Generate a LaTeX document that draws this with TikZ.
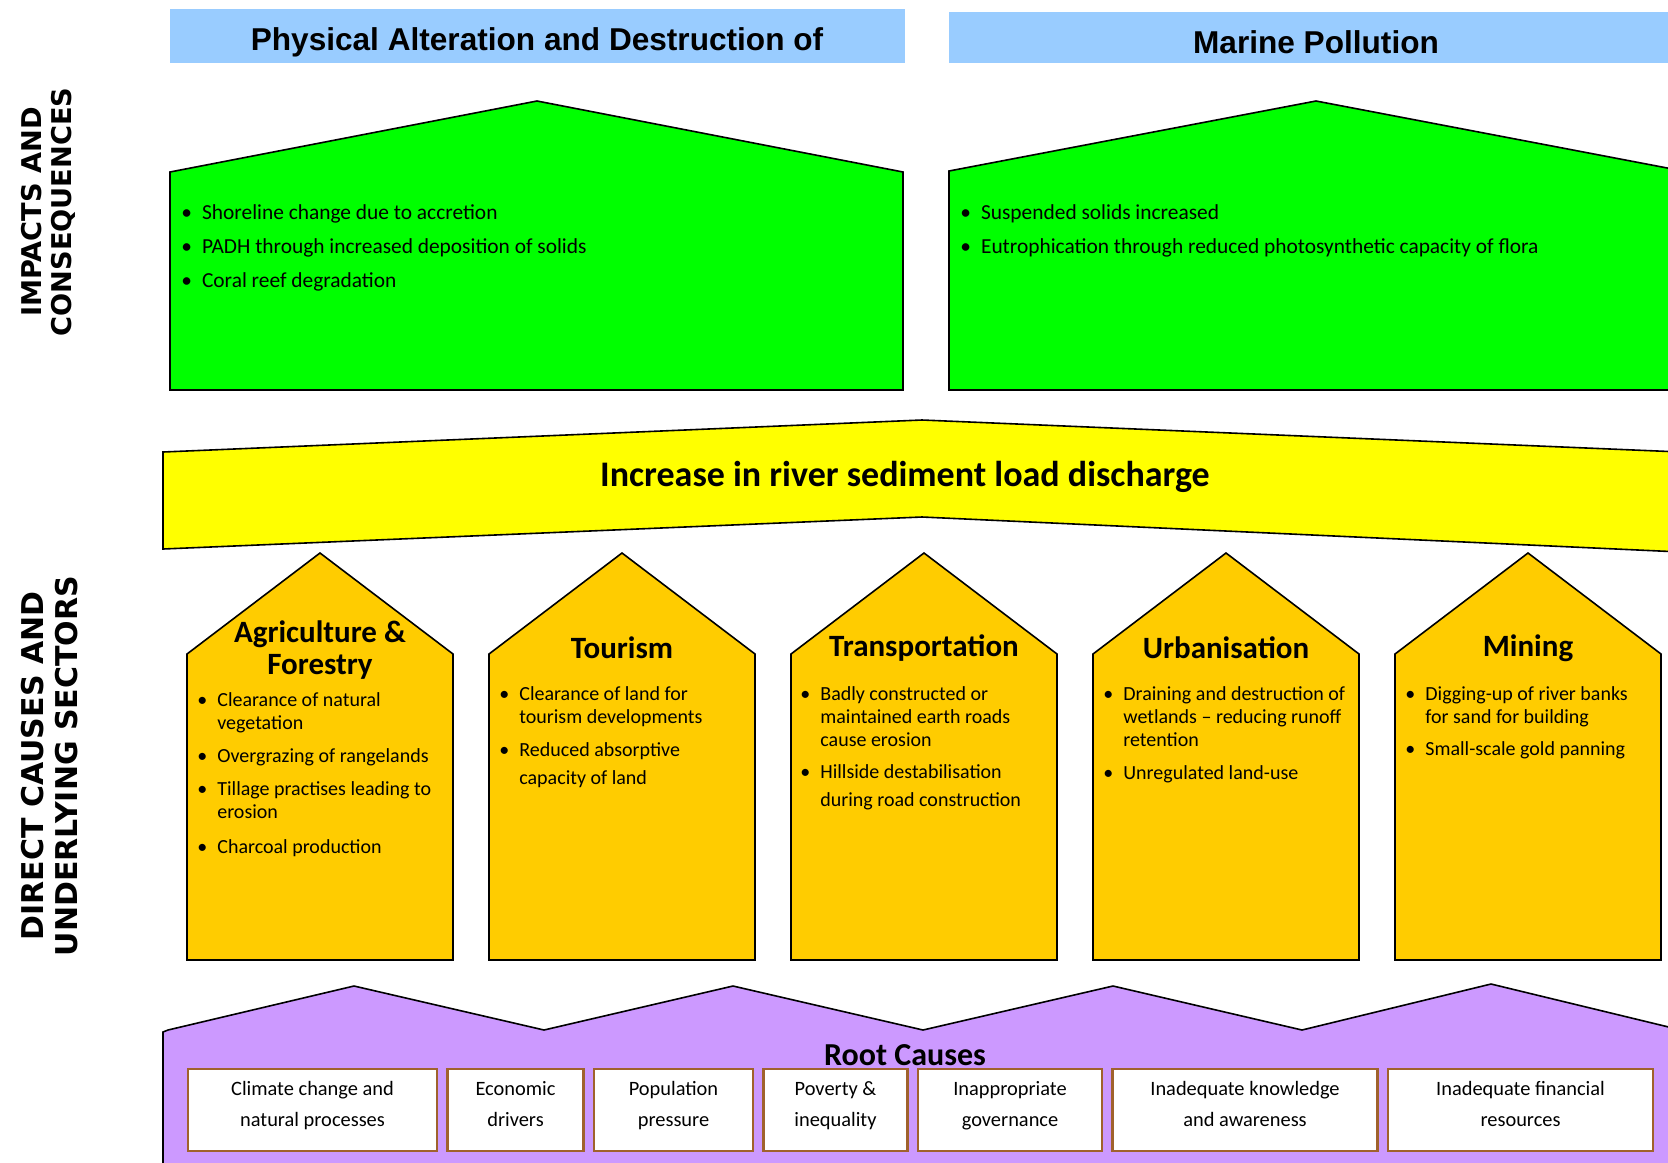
\documentclass[tikz,border=0pt]{standalone}
\usepackage{fontspec}
\setmainfont{Carlito}
\newfontfamily\headfont{Liberation Sans}
\newfontfamily\sidefont{DejaVu Sans}
\usetikzlibrary{positioning}
\definecolor{headblue}{HTML}{99CCFF}
\definecolor{impactgreen}{HTML}{00FF00}
\definecolor{loadyellow}{HTML}{FFFF00}
\definecolor{sectororange}{HTML}{FFCC00}
\definecolor{rootpurple}{HTML}{CC99FF}
\definecolor{rootbrown}{HTML}{A0622D}

\tikzset{
  headtext/.style={font=\headfont\bfseries\fontsize{15.8}{18}\selectfont},
  outlined/.style={draw=black, line width=0.8pt, line join=miter},
  sectortitle/.style={font=\bfseries\fontsize{15.5}{16}\selectfont, align=center},
  bulletlist/.style={anchor=base west, inner sep=0pt, font=\fontsize{10}{11.5}\selectfont},
  rootbox/.style={draw=rootbrown, fill=white, line width=1.2pt, align=center, inner sep=0pt,
    outer sep=0pt, minimum height=41pt, text height=22.5pt, text depth=6.5pt,
    font=\fontsize{10.2}{15.5}\selectfont},
  sidelabel/.style={rotate=90, align=center}
}

\begin{document}
\begin{tikzpicture}[x=0.5pt,y=-0.5pt]
  \useasboundingbox (0,0) rectangle (1668,1162);
  \clip (0,0) rectangle (1668,1162);
  \fill[white] (0,0) rectangle (1668,1162);

  % side labels
  \node[sidelabel, font=\sidefont\bfseries\fontsize{13.6}{15}\selectfont] (impacts) at (48,212)
    {IMPACTS AND\\CONSEQUENCES};
  \node[sidelabel, font=\sidefont\bfseries\fontsize{15}{17}\selectfont] (causes) at (50,766)
    {DIRECT CAUSES AND\\UNDERLYING SECTORS};

  % header bars
  \fill[headblue] (170,9) rectangle (905,63);
  \fill[headblue] (949,12) rectangle (1668,63);
  \node[headtext] (physical) at (537,42) {Physical Alteration and Destruction of};
  \node[headtext] (marine) at (1316,42) {Marine Pollution};

  % impacts
  \filldraw[outlined, fill=impactgreen] (170,390) -- (170,172) -- (537,101) -- (903,172) -- (903,390) -- cycle;
  \filldraw[outlined, fill=impactgreen] (949,390) -- (949,171) -- (1316,101) -- (1683,171) -- (1683,390) -- cycle;
  \node[bulletlist, font=\fontsize{10.7}{17}\selectfont] (physlist) at (181,219) {%
    \begin{tabular}[t]{@{}l@{\hspace{5pt}}l@{}}
      \textbullet & Shoreline change due to accretion\\
      \textbullet & PADH through increased deposition of solids\\
      \textbullet & Coral reef degradation
    \end{tabular}};
  \node[bulletlist, font=\fontsize{10.7}{17}\selectfont] (marinelist) at (960,219) {%
    \begin{tabular}[t]{@{}l@{\hspace{5pt}}l@{}}
      \textbullet & Suspended solids increased\\
      \textbullet & Eutrophication through reduced photosynthetic capacity of flora
    \end{tabular}};

  % sediment load
  \filldraw[outlined, fill=loadyellow] (163,549) -- (163,452) -- (922,420) -- (1681,452) -- (1681,552) -- (922,517) -- cycle;
  \node[font=\bfseries\fontsize{18}{20}\selectfont] (sediment) at (905,477) {Increase in river sediment load discharge};

  % sectors
  \foreach \cx in {320,622,924,1226,1528}
    \filldraw[outlined, fill=sectororange] (\cx-133,960) -- (\cx-133,654) -- (\cx,553) -- (\cx+133,654) -- (\cx+133,960) -- cycle;

  \node[sectortitle] (agri) at (320,650) {Agriculture \&\\Forestry};
  \node[sectortitle] (tourism) at (622,648) {Tourism};
  \node[sectortitle] (transport) at (924,648) {Transportation};
  \node[sectortitle] (urban) at (1226,648) {Urbanisation};
  \node[sectortitle] (mining) at (1528,648) {Mining};

  \node[bulletlist] (agrilist) at (197,706) {%
    \begin{tabular}[t]{@{}l@{\hspace{5pt}}l@{}}
      \textbullet & Clearance of natural\\
                  & vegetation\\[5pt]
      \textbullet & Overgrazing of rangelands\\[5pt]
      \textbullet & Tillage practises leading to\\
                  & erosion\\[6pt]
      \textbullet & Charcoal production
    \end{tabular}};
  \node[bulletlist] (tourismlist) at (499,700) {%
    \begin{tabular}[t]{@{}l@{\hspace{5pt}}l@{}}
      \textbullet & Clearance of land for\\
                  & tourism developments\\[5pt]
      \textbullet & Reduced absorptive\\[2.5pt]
                  & capacity of land
    \end{tabular}};
  \node[bulletlist] (transportlist) at (800,700) {%
    \begin{tabular}[t]{@{}l@{\hspace{5pt}}l@{}}
      \textbullet & Badly constructed or\\
                  & maintained earth roads\\
                  & cause erosion\\[4.5pt]
      \textbullet & Hillside destabilisation\\[2.5pt]
                  & during road construction
    \end{tabular}};
  \node[bulletlist] (urbanlist) at (1103,700) {%
    \begin{tabular}[t]{@{}l@{\hspace{5pt}}l@{}}
      \textbullet & Draining and destruction of\\
                  & wetlands -- reducing runoff\\
                  & retention\\[5pt]
      \textbullet & Unregulated land-use
    \end{tabular}};
  \node[bulletlist] (mininglist) at (1405,700) {%
    \begin{tabular}[t]{@{}l@{\hspace{5pt}}l@{}}
      \textbullet & Digging-up of river banks\\
                  & for sand for building\\[4.5pt]
      \textbullet & Small-scale gold panning
    \end{tabular}};

  % root causes
  \filldraw[outlined, fill=rootpurple] (163,1175) -- (163,1032) -- (168,1030) -- (354,986) -- (544,1030) -- (733,986)
    -- (923,1030) -- (1113,986) -- (1302,1030) -- (1491,984) -- (1681,1030) -- (1681,1175) -- cycle;
  \node[font=\bfseries\fontsize{16}{18}\selectfont] (rootcauses) at (905,1055) {Root Causes};

  \node[rootbox, minimum width=124.5pt] (climate) at (312.5,1110) {Climate change and\\natural processes};
  \node[rootbox, minimum width=68pt, right=5.25pt of climate] (economic) {Economic\\drivers};
  \node[rootbox, minimum width=79.5pt, right=5.25pt of economic] (population) {Population\\pressure};
  \node[rootbox, minimum width=72pt, right=5.25pt of population] (poverty) {Poverty \&\\inequality};
  \node[rootbox, minimum width=92pt, right=5.25pt of poverty] (governance) {Inappropriate\\governance};
  \node[rootbox, minimum width=132.5pt, right=5.25pt of governance] (knowledge) {Inadequate knowledge\\and awareness};
  \node[rootbox, minimum width=132.5pt, right=5.25pt of knowledge] (financial) {Inadequate financial\\resources};
\end{tikzpicture}
\end{document}
